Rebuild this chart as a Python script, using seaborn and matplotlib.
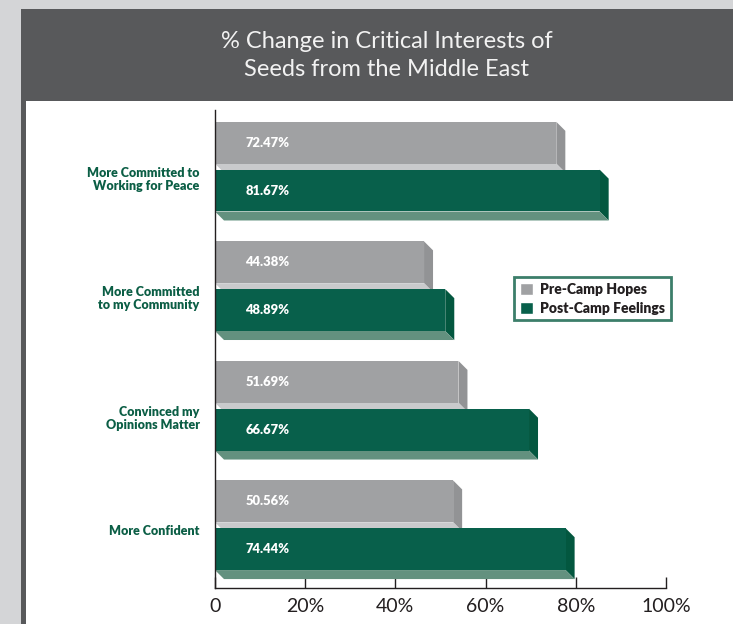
import numpy as np
import pandas as pd
import matplotlib
matplotlib.use('Agg')
import matplotlib.pyplot as plt
import seaborn as sns
from matplotlib.patches import Polygon, Rectangle

# chart data
categories = ['More Committed to\nWorking for Peace', 'More Committed\nto my Community',
              'Convinced my\nOpinions Matter', 'More Confident']
series = ['Pre-Camp Hopes', 'Post-Camp Feelings']
pre_camp = [72.47, 44.38, 51.69, 50.56]
post_camp = [81.67, 48.89, 66.67, 74.44]
x_ticks = [0, 20, 40, 60, 80, 100]
title_lines = ['% Change in Critical Interests of', 'Seeds from the Middle East']

colors = {
    'bg': '#d4d5d7', 'panel': '#58595b', 'title': '#f2f2f2',
    'grey': '#a0a1a3', 'grey_side': '#929395', 'grey_bottom': '#c9cacc',
    'green': '#08604b', 'green_side': '#03573f', 'green_bottom': '#63917f',
    'label': '#0b5e45', 'axis': '#231f20',
}
heavy = 'heavy'

df = pd.DataFrame({
    'category': categories * 2,
    'series': [series[0]] * len(categories) + [series[1]] * len(categories),
    'value': pre_camp + post_camp,
})

sns.set_theme(style='white')
plt.rcParams['font.family'] = ['Lato', 'DejaVu Sans']

W, H = 733, 624
fig = plt.figure(figsize=(W / 100, H / 100), dpi=100, facecolor=colors['bg'])

# background panels
fig.patches.append(Rectangle((21 / W, 0), 1, 1 - 9 / H, transform=fig.transFigure,
                             facecolor=colors['panel'], edgecolor='none', zorder=-2))
fig.patches.append(Rectangle((26 / W, 0), 1, 1 - 101 / H, transform=fig.transFigure,
                             facecolor='white', edgecolor='none', zorder=-1))
fig.text(387 / W, 1 - 42 / H, title_lines[0], ha='center', va='center',
         fontsize=17, color=colors['title'])
fig.text(387 / W, 1 - 70 / H, title_lines[1], ha='center', va='center',
         fontsize=17, color=colors['title'])

ax = fig.add_axes([215 / W, 36 / H, 451 / W, 478 / H])
ax.set_facecolor('none')

# bars are drawn a little longer than the back-wall axis (3D look)
bar_to_axis = 4.71 / 4.51
x_max = 100 / bar_to_axis

sns.barplot(data=df, y='category', x='value', hue='series', orient='h',
            palette=[colors['grey'], colors['green']], saturation=1,
            width=0.8, gap=0.125, ax=ax)

ax.set_xlim(0, x_max)
ax.set_ylim(3.525, -0.474)

# 3D bevels
px_x = ax.transData.transform((1, 0))[0] - ax.transData.transform((0, 0))[0]
px_y = ax.transData.transform((0, 1))[1] - ax.transData.transform((0, 0))[1]
depth = 9
dx, dy = depth / px_x, depth / abs(px_y)
shades = [(colors['grey_side'], colors['grey_bottom']),
          (colors['green_side'], colors['green_bottom'])]
for cont, (side_c, bot_c) in zip(ax.containers, shades):
    for bar in cont:
        x0, y0 = bar.get_x(), bar.get_y()
        w, h = bar.get_width(), bar.get_height()
        x1, y1 = x0 + w, y0 + h
        bar.set_edgecolor('none')
        ax.add_patch(Polygon([(x1, y0), (x1 + dx, y0 + dy), (x1 + dx, y1 + dy), (x1, y1)],
                             facecolor=side_c, edgecolor='none', zorder=0.9, clip_on=False))
        ax.add_patch(Polygon([(x0, y1), (x1, y1), (x1 + dx, y1 + dy), (x0 + dx, y1 + dy)],
                             facecolor=bot_c, edgecolor='none', zorder=0.9, clip_on=False))
        ax.text(x0 + 6.4, y0 + h / 2, f'{w:.2f}%', color='white', fontsize=9.4,
                fontweight=heavy, ha='left', va='center', zorder=3)

# legend
leg = ax.get_legend()
handles = leg.legend_handles
labels = [t.get_text() for t in leg.get_texts()]
leg.remove()
lg = ax.legend(handles, labels, loc='upper left', bbox_to_anchor=(514 / W, 1 - 277 / H),
               bbox_transform=fig.transFigure, frameon=True, fancybox=False,
               prop={'weight': heavy, 'size': 10},
               handlelength=0.95, handleheight=0.95,
               handletextpad=0.55, labelspacing=0.45, borderpad=0.4, borderaxespad=0)
lg.get_frame().set_edgecolor(colors['label'])
lg.get_frame().set_linewidth(2)
for t in lg.get_texts():
    t.set_color('#231f20')

# axes styling
ax.set_xlabel('')
ax.set_ylabel('')
ax.set_yticks(range(len(categories)))
ax.set_yticklabels(categories, color=colors['label'], fontweight=heavy, fontsize=9,
                   va='top', linespacing=1.1)
ax.tick_params(axis='y', length=0, pad=11)
ax.tick_params(axis='x', bottom=False, labelbottom=False)
for side in ['top', 'right', 'bottom']:
    ax.spines[side].set_visible(False)
ax.spines['left'].set_color(colors['axis'])
ax.spines['left'].set_linewidth(1)

sec = ax.secondary_xaxis('bottom', functions=(lambda v: v * bar_to_axis,
                                              lambda s: s / bar_to_axis))
sec.set_xticks(x_ticks)
sec.set_xticklabels(['0' if t == 0 else f'{t}%' for t in x_ticks], fontsize=14,
                    color=colors['axis'])
sec.tick_params(direction='in', length=8, width=1, color=colors['axis'], pad=7)
sec.spines['bottom'].set_color(colors['axis'])
sec.spines['bottom'].set_linewidth(1)

fig.savefig('out.png', dpi=100, facecolor=fig.get_facecolor())
